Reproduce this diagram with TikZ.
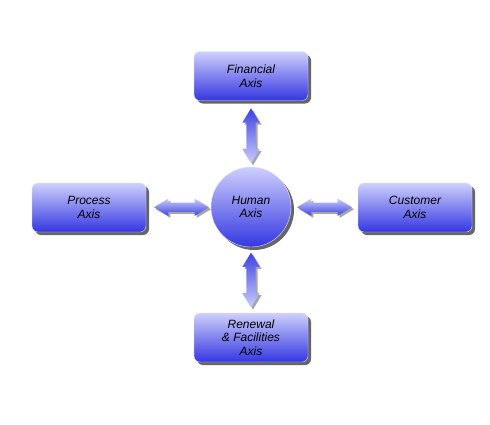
\documentclass[tikz,border=0pt]{standalone}
\usepackage{fontspec}
\setmainfont{Liberation Sans}
\usetikzlibrary{shadows,shapes.arrows,calc}
\definecolor{boxtop}{RGB}{206,208,252}
\definecolor{boxbot}{RGB}{52,54,226}
\definecolor{arrlight}{RGB}{200,204,252}
\definecolor{arrdark}{RGB}{62,66,226}
\begin{document}
\begin{tikzpicture}[x=1pt,y=-1pt,
  axisbox/.style={rounded corners=6pt, minimum width=114pt, minimum height=49pt,
    top color=boxtop, bottom color=boxbot, draw=boxtop!60!white, line width=0.4pt,
    drop shadow={shadow xshift=3pt, shadow yshift=-3pt, opacity=0.6, fill=black},
    align=center, font=\itshape\fontsize{12}{13.5}\selectfont, inner sep=0pt},
  hubcircle/.style={circle, minimum size=80pt, inner sep=0pt,
    top color=boxtop, bottom color=boxbot, draw=boxtop!60!white, line width=0.4pt,
    drop shadow={shadow xshift=3pt, shadow yshift=-3pt, opacity=0.6, fill=black},
    align=center, font=\itshape\fontsize{12}{13.5}\selectfont},
  fatarrow/.style={double arrow, minimum height=55pt, inner sep=4.5pt,
    double arrow head extend=4pt, double arrow tip angle=62,
    drop shadow={shadow xshift=2pt, shadow yshift=-2pt, opacity=0.35, fill=black}}]
\useasboundingbox (0,0) rectangle (490,424);
\node[axisbox] (fin) at (251,76) {Financial\\Axis};
\node[axisbox] (proc) at (89,207.5) {Process\\Axis};
\node[axisbox] (cust) at (415,207.5) {Customer\\Axis};
\node[axisbox] (ren) at (251,337.5) {Renewal\\\& Facilities\\Axis};
\node[hubcircle] (hum) at (251,207) {Human\\Axis};
\node[fatarrow, rotate=90, top color=arrdark, bottom color=arrlight] (a1) at ($(fin.south)!0.5!(hum.north)+(0,2)$) {};
\node[fatarrow, rotate=90, top color=arrdark, bottom color=arrlight] (a2) at ($(hum.south)!0.5!(ren.north)$) {};
\node[fatarrow, top color=arrlight, bottom color=arrdark] (a3) at ($(proc.east)!0.5!(hum.west)+(3,0)$) {};
\node[fatarrow, top color=arrlight, bottom color=arrdark] (a4) at ($(hum.east)!0.5!(cust.west)$) {};
\end{tikzpicture}
\end{document}
